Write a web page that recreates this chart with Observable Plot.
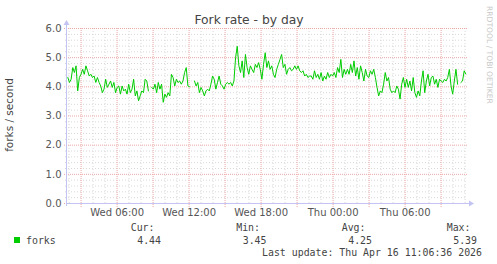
<!DOCTYPE html>
<html><head><meta charset="utf-8">
<script src="https://cdn.jsdelivr.net/npm/d3@7"></script>
<script src="https://cdn.jsdelivr.net/npm/@observablehq/plot@0.6"></script>
<style>body{margin:0;background:#fff}#chart svg{display:block}</style>
</head><body><div id="chart"></div>
<script>
const title = "Fork rate - by day";
const yLabel = "forks / second";
const seriesName = "forks";
const statLabels = ["Cur:", "Min:", "Avg:", "Max:"];
const statValues = ["4.44", "3.45", "4.25", "5.39"];
const lastUpdate = "Last update: Thu Apr 16 11:06:36 2026";
const watermark = "RRDTOOL / TOBI OETIKER";

const domainStart = Date.UTC(2026, 3, 15, 1, 52);
const domainEnd = Date.UTC(2026, 3, 16, 11, 12);
const firstSample = Date.UTC(2026, 3, 15, 1, 53, 40);
const lastSample = Date.UTC(2026, 3, 16, 11, 3, 40);

const yTicks = [0, 1, 2, 3, 4, 5, 6];
const xLabelTimes = [
  Date.UTC(2026, 3, 15, 6), Date.UTC(2026, 3, 15, 12), Date.UTC(2026, 3, 15, 18),
  Date.UTC(2026, 3, 16, 0), Date.UTC(2026, 3, 16, 6)
];
const dayNames = ["Sun", "Mon", "Tue", "Wed", "Thu", "Fri", "Sat"];

const forks = [
  4.32,4.15,4.26,4.66,4.49,4.72,3.86,4.32,4.43,4.6,4.43,4.72,4.55,4.37,4.43,4.32,4.37,4.15,4.32,4.15,4.03,3.8,3.92,4.26,3.98,4.09,4.2,3.98,4.15,3.8,3.98,4.03,3.75,4.03,3.86,3.92,3.75,4.09,3.8,3.92,4.26,3.69,3.86,3.52,3.69,3.86,3.8,4.26,
  4.2,3.86,null,3.98,3.92,4.09,3.8,4.15,3.92,4.09,3.47,3.75,3.64,3.8,3.69,4.43,4.32,4.03,4.26,4.15,4.2,4.09,4.2,4.49,4.66,4.03,4.0,null,null,4.2,4.03,4.15,3.8,3.98,3.86,3.69,3.86,3.92,3.86,4.09,4.37,4.26,3.92,4.15,4.37,4.09,4.03,3.92,4.09,4.15,
  4.09,4.15,4.03,4.2,5.0,5.39,4.72,4.49,4.89,4.32,5.11,4.66,4.43,4.72,4.6,4.49,4.77,4.66,4.83,4.6,4.26,4.77,5.17,4.66,4.89,4.6,4.72,4.43,4.32,4.6,4.77,4.94,5.11,4.66,4.77,4.43,4.6,4.66,4.55,4.6,4.72,4.6,4.72,4.55,4.49,4.55,4.37,4.43,4.32,4.37,
  4.37,4.26,4.55,4.32,4.43,4.26,4.49,4.2,4.37,4.26,4.49,4.32,4.43,4.37,4.49,4.32,4.66,4.49,4.94,4.32,4.6,4.43,4.6,4.43,4.77,4.49,4.89,4.37,4.66,4.26,4.72,4.49,4.2,4.6,4.37,4.32,4.55,4.43,4.6,4.32,3.98,3.69,3.86,3.8,4.09,4.49,4.2,4.32,3.92,3.8,
  3.86,3.8,4.03,3.92,3.58,4.09,4.32,3.98,4.26,3.98,4.2,3.86,4.32,3.8,3.64,3.86,3.69,4.2,4.55,3.8,4.2,4.43,4.03,4.32,4.37,4.09,4.26,3.98,4.26,4.2,4.15,4.26,4.2,4.32,4.6,4.03,3.75,4.2,4.6,4.09,null,4.15,4.2,4.55,4.44
];

const step = (lastSample - firstSample) / (forks.length - 1);
const data = forks.map((v, i) => ({t: new Date(firstSample + i * step), v: v == null ? NaN : v}));

const hours = d3.utcHour.range(new Date(domainStart), new Date(domainEnd));
const majorHours = hours.filter(d => d.getUTCHours() % 3 === 0);
const minorHours = hours.filter(d => d.getUTCHours() % 3 !== 0);
const minorY = d3.range(1, 30).map(i => i / 5).filter(v => Math.abs(v - Math.round(v)) > 1e-6);

const W = 497, H = 264, ML = 67, MR = 30, MT = 28, MB = 61;
const axisColor = "#c4c4f4";
const majorColor = "#eda8a8";
const minorColor = "#d8d8d8";

const plot = Plot.plot({
  width: W, height: H,
  marginLeft: ML, marginRight: MR, marginTop: MT, marginBottom: MB,
  style: {background: "#fff", fontFamily: "DejaVu Sans", fontSize: "10px", color: "#555"},
  x: {type: "utc", domain: [new Date(domainStart), new Date(domainEnd)]},
  y: {domain: [0, 6]},
  marks: [
    Plot.ruleX(minorHours, {x: d => d, y1: 0, y2: 6, stroke: minorColor, strokeDasharray: "1,2", strokeWidth: 1}),
    Plot.ruleY(minorY, {y: d => d, stroke: minorColor, strokeDasharray: "1,2", strokeWidth: 1, insetLeft: -2}),
    Plot.ruleX(majorHours, {x: d => d, stroke: majorColor, strokeDasharray: "1,1", strokeWidth: 1, insetBottom: -5}),
    Plot.ruleY(yTicks, {y: d => d, stroke: majorColor, strokeDasharray: "1,1", strokeWidth: 1, insetLeft: -3}),
    Plot.axisY({ticks: yTicks, tickFormat: d => d.toFixed(1), tickSize: 0, tickPadding: 6, label: null, fill: "#555"}),
    Plot.axisX({ticks: xLabelTimes.map(d => new Date(d)), tickSize: 0, tickPadding: 5, label: null, fill: "#555",
      tickFormat: d => dayNames[d.getUTCDay()] + " " + String(d.getUTCHours()).padStart(2, "0") + ":00"}),
    Plot.line(data, {x: "t", y: "v", stroke: "#00cc00", strokeWidth: 1})
  ]
});

document.getElementById("chart").appendChild(plot);

const svg = d3.select(plot);
const xs = plot.scale("x"), ys = plot.scale("y");
const x0 = xs.apply(new Date(domainStart)), x1 = xs.apply(new Date(domainEnd));
const y0 = ys.apply(0), y6 = ys.apply(6);

// axis lines with arrows
svg.append("line").attr("x1", x0 - 0.5).attr("x2", x1 + 3).attr("y1", y0 + 0.5).attr("y2", y0 + 0.5)
  .attr("stroke", axisColor).attr("stroke-width", 1);
svg.append("path").attr("d", `M${x1 + 2},${y0 - 2.5}L${x1 + 7},${y0 + 0.5}L${x1 + 2},${y0 + 3.5}Z`).attr("fill", axisColor);
svg.append("line").attr("x1", x0 - 0.5).attr("x2", x0 - 0.5).attr("y1", y0 + 3).attr("y2", y6 - 4)
  .attr("stroke", axisColor).attr("stroke-width", 1);
svg.append("path").attr("d", `M${x0 - 3.5},${y6 - 3}L${x0 - 0.5},${y6 - 8}L${x0 + 2.5},${y6 - 3}Z`).attr("fill", axisColor);

// title
svg.append("text").attr("x", 249).attr("y", 24).attr("text-anchor", "middle")
  .attr("font-family", "DejaVu Sans").attr("font-size", 12.3).attr("fill", "#444").text(title);

// y label
svg.append("text").attr("transform", "translate(13,115) rotate(-90)").attr("text-anchor", "middle")
  .attr("font-family", "DejaVu Sans").attr("font-size", 10.5).attr("fill", "#444").text(yLabel);

// watermark
svg.append("text").attr("transform", "translate(487,6) rotate(90)").attr("text-anchor", "start")
  .attr("font-family", "DejaVu Sans").attr("font-size", 7.6).attr("fill", "#c8c8c8").text(watermark);

// legend
const mono = "DejaVu Sans Mono";
svg.append("rect").attr("x", 14).attr("y", 237).attr("width", 6).attr("height", 6).attr("fill", "#00cc00");
svg.append("text").attr("x", 26).attr("y", 243.5).attr("text-anchor", "start")
  .attr("font-family", mono).attr("font-size", 9.9).attr("fill", "#444").text(seriesName);
const statRight = [154.5, 260, 365.5, 470.5];
statLabels.forEach((s, i) => {
  svg.append("text").attr("x", statRight[i]).attr("y", 231).attr("text-anchor", "end")
    .attr("font-family", mono).attr("font-size", 9.9).attr("fill", "#444").text(s);
  svg.append("text").attr("x", statRight[i] + 6.5).attr("y", 243.5).attr("text-anchor", "end")
    .attr("font-family", mono).attr("font-size", 9.9).attr("fill", "#444").text(statValues[i]);
});
svg.append("text").attr("x", 482).attr("y", 255.5).attr("text-anchor", "end")
  .attr("font-family", mono).attr("font-size", 9.9).attr("fill", "#444").text(lastUpdate);
</script>
</body></html>
